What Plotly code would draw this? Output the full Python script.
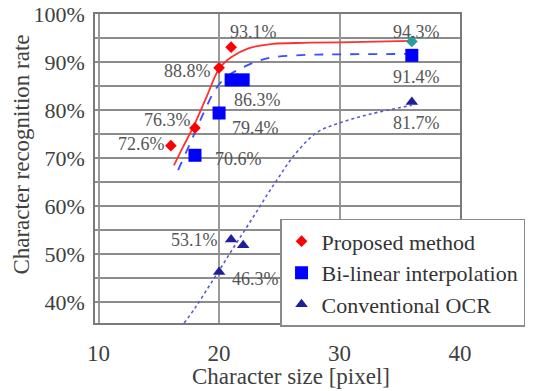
import plotly.graph_objects as go

# ---- data ----
char_size = [16, 18, 20, 21, 36]
proposed = [72.6, 76.3, 88.8, 93.1, 94.3]

bilinear_x = [18, 20, 21, 22, 36]
bilinear = [70.6, 79.4, 86.3, 86.3, 91.4]

ocr_x = [18, 20, 21, 22, 36]
ocr = [35.6, 46.3, 53.1, 51.9, 81.7]

# trend curves
proposed_fit_x = [16.25, 17.0, 17.86, 18.97, 20.03, 21.06, 22.44, 23.4, 24.5, 27.0, 30.0, 36.0]
proposed_fit_y = [68.5, 72.3, 76.5, 82.8, 88.7, 91.1, 92.85, 93.4, 93.8, 94.0, 94.1, 94.4]

bilinear_fit_x = [16.6, 17.6, 18.7, 19.67, 20.6, 21.75, 23.1, 24.5, 27.3, 30.0, 36.0]
bilinear_fit_y = [67.5, 73.1, 79.3, 84.2, 86.9, 88.6, 90.1, 91.0, 91.5, 91.6, 91.7]

ocr_fit_x = [17.1, 18, 19, 20, 21, 22, 23, 24, 25, 26.2, 28.1, 30.1, 32.6, 36.0]
ocr_fit_y = [35.7, 38.8, 42.7, 46.6, 50.6, 54.5, 58.4, 62.4, 66.2, 70.5, 75.3, 77.4, 79.2, 81.0]

x_ticks = [10, 20, 30, 40]
y_ticks = [40, 50, 60, 70, 80, 90, 100]
y_tick_text = [f"{v}%" for v in y_ticks]

series_names = ["Proposed method", "Bi-linear interpolation", "Conventional OCR"]
x_title = "Character size [pixel]"
y_title = "Character recognition rate"

FONT = '"Liberation Serif", "Times New Roman", Tinos, serif'

fig = go.Figure()

# fitted curves
fig.add_trace(go.Scatter(x=proposed_fit_x, y=proposed_fit_y, mode="lines", line_shape="spline",
                         line=dict(color="#ff3030", width=1.8), showlegend=False, hoverinfo="skip"))
fig.add_trace(go.Scatter(x=bilinear_fit_x, y=bilinear_fit_y, mode="lines", line_shape="spline",
                         line=dict(color="#3a4cff", width=1.8, dash="dash"), showlegend=False, hoverinfo="skip"))
fig.add_trace(go.Scatter(x=ocr_fit_x, y=ocr_fit_y, mode="lines", line_shape="spline",
                         line=dict(color="#5a5ad0", width=1.6, dash="dot"), showlegend=False, hoverinfo="skip"))

# data points
fig.add_trace(go.Scatter(x=char_size, y=proposed, mode="markers", name=series_names[0],
                         marker=dict(symbol="diamond", size=9,
                                     color=["#ff0000"] * (len(proposed) - 1) + ["#2a9d9a"]),
                         cliponaxis=False))
fig.add_trace(go.Scatter(x=bilinear_x, y=bilinear, mode="markers", name=series_names[1],
                         marker=dict(symbol="square", size=13, color="#0000ff"), cliponaxis=False))
fig.add_trace(go.Scatter(x=ocr_x, y=ocr, mode="markers", name=series_names[2],
                         marker=dict(symbol="triangle-up", size=11, color="#1f1f9c"), cliponaxis=False))

# value labels: (x, y, text) taken from the data, placement offsets are style only
label_style = {
    ("p", 0): ("right", -4, 2), ("p", 1): ("right", -2, 8), ("p", 2): ("right", -6, -3),
    ("p", 3): ("left", -3, 15), ("p", 4): ("center", 5, 9),
    ("b", 0): ("left", 18, -4), ("b", 1): ("left", 11, -15), ("b", 2): ("left", 1, -20),
    ("b", 4): ("center", 5, -22),
    ("o", 0): ("left", 8, 4), ("o", 1): ("left", 11, -7), ("o", 2): ("right", -11, -1),
    ("o", 4): ("center", 5, -21),
}
for key, xs, ys in (("p", char_size, proposed), ("b", bilinear_x, bilinear), ("o", ocr_x, ocr)):
    for i, (xv, yv) in enumerate(zip(xs, ys)):
        if (key, i) not in label_style:
            continue
        anchor, dx, dy = label_style[(key, i)]
        fig.add_annotation(x=xv, y=yv, text=f"{yv:.1f}%", showarrow=False,
                           xanchor=anchor, yanchor="middle", xshift=dx, yshift=dy,
                           font=dict(family=FONT, size=18, color="#555555"))

# axis titles as paper-positioned text
fig.add_annotation(x=0.537, y=-0.172, xref="paper", yref="paper", text=x_title, showarrow=False,
                   xanchor="center", yanchor="middle", font=dict(family=FONT, size=23, color="#404040"))
fig.add_annotation(x=-0.2, y=0.545, xref="paper", yref="paper", text=y_title, showarrow=False,
                   textangle=-90, xanchor="center", yanchor="middle",
                   font=dict(family=FONT, size=23, color="#404040"))

fig.update_layout(
    template="none",
    width=530, height=383,
    margin=dict(l=87, r=78, t=6, b=68, autoexpand=False),
    paper_bgcolor="white", plot_bgcolor="white",
    font=dict(family=FONT, size=22, color="#404040"),
    showlegend=True,
    legend=dict(x=0.507, y=0.337, xanchor="left", yanchor="top",
                bgcolor="white", bordercolor="#8a8a8a", borderwidth=1.5,
                font=dict(family=FONT, size=22, color="#333333"),
                itemwidth=30, tracegroupgap=0),
)
fig.update_xaxes(
    range=[9.7, 40], tickvals=x_ticks, ticks="", ticklabelstandoff=9,
    showgrid=True, gridcolor="#9a9a9a", gridwidth=1.5,
    showline=True, linecolor="#7a7a7a", linewidth=1.5, mirror=True,
    zeroline=False, automargin=False, ticklabeloverflow="allow",
    tickfont=dict(family=FONT, size=23, color="#404040"),
)
fig.update_yaxes(
    range=[35.7, 100], tickvals=y_ticks, ticktext=y_tick_text, ticks="", ticklabelstandoff=4,
    showgrid=True, gridcolor="#8c8c8c", gridwidth=1.5,
    minor=dict(dtick=5, tick0=35, showgrid=True, gridcolor="#8c8c8c", gridwidth=1.5),
    showline=True, linecolor="#7a7a7a", linewidth=1.5, mirror=True,
    zeroline=False, automargin=False, ticklabeloverflow="allow",
    tickfont=dict(family=FONT, size=22, color="#404040"),
)

fig.write_html("out.html")
